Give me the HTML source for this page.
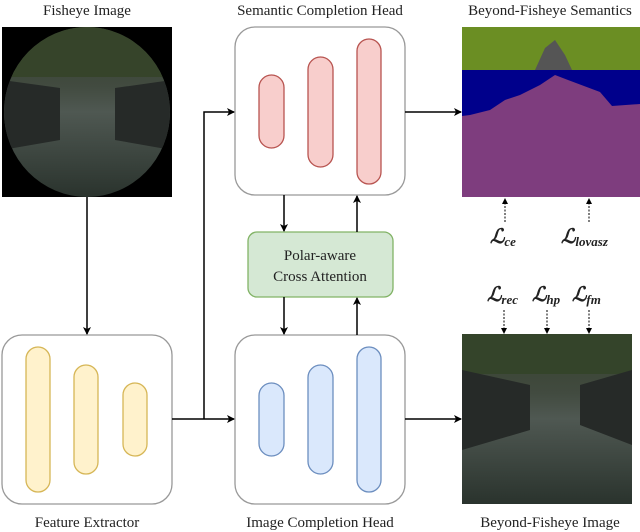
<!DOCTYPE html>
<html><head><meta charset="utf-8"><style>
html,body{margin:0;padding:0;background:#fff;}
svg{display:block;}
text{font-family:"Liberation Serif",serif;fill:#222;}
</style></head><body>
<svg width="640" height="532" viewBox="0 0 640 532" xmlns="http://www.w3.org/2000/svg">
<defs>
<marker id="ah" markerWidth="8" markerHeight="8" refX="7" refY="4" orient="auto" markerUnits="userSpaceOnUse">
<path d="M0,0 L8,4 L0,8 L2,4 Z" fill="#000"/></marker>
<marker id="ah2" markerWidth="6" markerHeight="6" refX="5" refY="3" orient="auto" markerUnits="userSpaceOnUse">
<path d="M0,0 L6,3 L0,6 Z" fill="#000"/></marker>
<linearGradient id="road" x1="0" y1="0" x2="0" y2="1">
<stop offset="0" stop-color="#34402c"/><stop offset="0.35" stop-color="#424b40"/><stop offset="0.5" stop-color="#4f5852"/><stop offset="1" stop-color="#2a332d"/></linearGradient>
<clipPath id="fe"><ellipse cx="87" cy="112" rx="83" ry="85"/></clipPath>
</defs>

<text x="87" y="15" font-size="15" text-anchor="middle">Fisheye Image</text>
<text x="320" y="15" font-size="15" text-anchor="middle">Semantic Completion Head</text>
<text x="550" y="15" font-size="15" text-anchor="middle">Beyond-Fisheye Semantics</text>
<text x="87" y="527" font-size="15" text-anchor="middle">Feature Extractor</text>
<text x="320" y="527" font-size="15" text-anchor="middle">Image Completion Head</text>
<text x="550" y="527" font-size="15" text-anchor="middle">Beyond-Fisheye Image</text>

<rect x="2" y="27" width="170" height="170" fill="#000"/>
<g clip-path="url(#fe)">
<rect x="2" y="27" width="170" height="170" fill="url(#road)"/>
<rect x="2" y="27" width="170" height="50" fill="#36442a"/>
<polygon points="2,80 60,88 60,140 2,150" fill="#262a28"/>
<polygon points="172,80 115,88 115,140 172,150" fill="#262a28"/>
</g>

<rect x="462" y="27" width="178" height="170" fill="#7e3d7e"/>
<rect x="462" y="27" width="178" height="43" fill="#6b8e23"/>
<polygon points="462,70 640,70 640,104 612,106 600,92 568,80 555,75 540,85 520,95 505,100 490,110 470,115 462,116" fill="#00008b"/>
<polygon points="535,70 545,48 555,40 565,55 572,70" fill="#555"/>

<rect x="235" y="27" width="170" height="168" rx="20" fill="#fff" stroke="#999" stroke-width="1.3"/>
<rect x="259" y="75" width="25" height="73" rx="12.5" fill="#f8cecc" stroke="#b85450" stroke-width="1.3"/>
<rect x="308" y="57" width="25" height="110" rx="12.5" fill="#f8cecc" stroke="#b85450" stroke-width="1.3"/>
<rect x="357" y="39" width="24" height="145" rx="12" fill="#f8cecc" stroke="#b85450" stroke-width="1.3"/>

<rect x="248" y="232" width="145" height="65" rx="9" fill="#d5e8d4" stroke="#82b366" stroke-width="1.3"/>
<text x="320" y="260" font-size="15" text-anchor="middle">Polar-aware</text>
<text x="320" y="281" font-size="15" text-anchor="middle">Cross Attention</text>

<rect x="2" y="335" width="170" height="169" rx="20" fill="#fff" stroke="#999" stroke-width="1.3"/>
<rect x="26" y="347" width="24" height="145" rx="12" fill="#fff2cc" stroke="#d6b656" stroke-width="1.3"/>
<rect x="74" y="365" width="24" height="109" rx="12" fill="#fff2cc" stroke="#d6b656" stroke-width="1.3"/>
<rect x="123" y="383" width="24" height="73" rx="12" fill="#fff2cc" stroke="#d6b656" stroke-width="1.3"/>

<rect x="235" y="335" width="170" height="169" rx="20" fill="#fff" stroke="#999" stroke-width="1.3"/>
<rect x="259" y="383" width="25" height="73" rx="12.5" fill="#dae8fc" stroke="#6c8ebf" stroke-width="1.3"/>
<rect x="308" y="365" width="25" height="109" rx="12.5" fill="#dae8fc" stroke="#6c8ebf" stroke-width="1.3"/>
<rect x="357" y="347" width="24" height="145" rx="12" fill="#dae8fc" stroke="#6c8ebf" stroke-width="1.3"/>

<rect x="462" y="334" width="170" height="170" fill="url(#road)"/>
<rect x="462" y="334" width="170" height="40" fill="#34442a"/>
<polygon points="462,370 530,385 530,430 462,450" fill="#262a28"/>
<polygon points="632,370 580,385 580,425 632,445" fill="#262a28"/>

<g stroke="#000" stroke-width="1.5" fill="none">
<line x1="87" y1="197" x2="87" y2="334" marker-end="url(#ah)"/>
<line x1="172" y1="419" x2="234" y2="419" marker-end="url(#ah)"/>
<polyline points="204,419 204,112 234,112" marker-end="url(#ah)"/>
<line x1="405" y1="112" x2="461" y2="112" marker-end="url(#ah)"/>
<line x1="405" y1="419" x2="461" y2="419" marker-end="url(#ah)"/>
<line x1="284" y1="195" x2="284" y2="231" marker-end="url(#ah)"/>
<line x1="357" y1="232" x2="357" y2="196" marker-end="url(#ah)"/>
<line x1="284" y1="297" x2="284" y2="334" marker-end="url(#ah)"/>
<line x1="357" y1="335" x2="357" y2="298" marker-end="url(#ah)"/>
</g>
<g stroke="#000" stroke-width="1" stroke-dasharray="2,1.5" fill="none">
<line x1="505" y1="222" x2="505" y2="199" marker-end="url(#ah2)"/>
<line x1="589" y1="222" x2="589" y2="199" marker-end="url(#ah2)"/>
<line x1="504" y1="310" x2="504" y2="333" marker-end="url(#ah2)"/>
<line x1="547" y1="310" x2="547" y2="333" marker-end="url(#ah2)"/>
<line x1="589" y1="310" x2="589" y2="333" marker-end="url(#ah2)"/>
</g>

<g font-style="italic" font-weight="bold">
<text x="490" y="243" font-size="20">ℒ<tspan font-size="13" dy="3">ce</tspan></text>
<text x="561" y="243" font-size="20">ℒ<tspan font-size="13" dy="3">lovasz</tspan></text>
<text x="487" y="301" font-size="20">ℒ<tspan font-size="13" dy="3">rec</tspan></text>
<text x="532" y="301" font-size="20">ℒ<tspan font-size="13" dy="3">hp</tspan></text>
<text x="572" y="301" font-size="20">ℒ<tspan font-size="13" dy="3">fm</tspan></text>
</g>
</svg>
</body></html>
